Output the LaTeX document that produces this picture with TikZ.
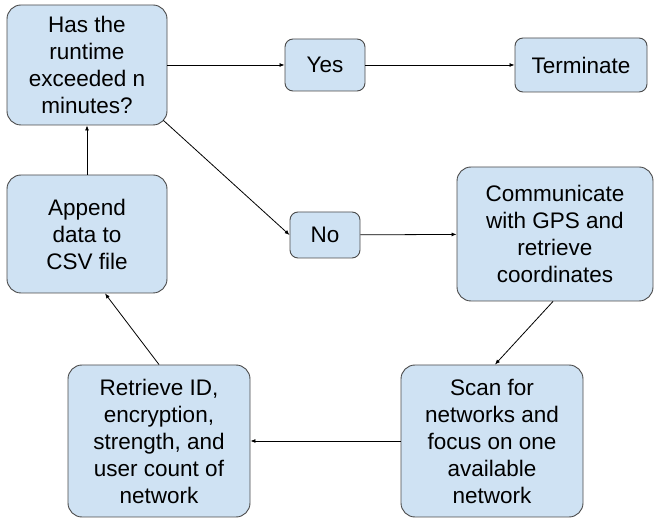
\documentclass[tikz,border=0pt]{standalone}
\usepackage{fontspec}
\setmainfont{Liberation Sans}
\usetikzlibrary{arrows.meta}
\definecolor{boxfill}{HTML}{CFE2F3}
\definecolor{boxline}{HTML}{4A4A4A}
\begin{document}
\begin{tikzpicture}
  [x=1pt,y=-1pt,-{Latex[length=5pt,width=4pt]},
   every node/.style={rectangle,rounded corners=14pt,draw=boxline,fill=boxfill,line width=0.9pt,align=center,inner sep=0pt,font=\fontsize{22.5}{27}\selectfont},
   small/.style={rounded corners=8pt}]
  \useasboundingbox (0,0) rectangle (654,521);
  \node (nq) [minimum width=160pt,minimum height=120pt] at (87,65) {Has the\\runtime\\exceeded n\\minutes?};
  \node (nyes) [small,minimum width=80pt,minimum height=52pt] at (325,65) {Yes};
  \node (nterm) [small,minimum width=132pt,minimum height=54pt] at (581,65) {Terminate};
  \node (nno) [small,minimum width=70pt,minimum height=46pt] at (325,235) {No};
  \node (ngps) [minimum width=196pt,minimum height=134pt] at (555,234) {Communicate\\with GPS and\\retrieve\\coordinates};
  \node (nscan) [minimum width=182pt,minimum height=152pt] at (492,441) {Scan for\\networks and\\focus on one\\available\\network};
  \node (nret) [minimum width=182pt,minimum height=152pt] at (159,441) {Retrieve ID,\\encryption,\\strength, and\\user count of\\network};
  \node (napp) [minimum width=160pt,minimum height=118pt] at (87,234) {Append\\data to\\CSV file};

\draw[line width=0.8pt] (nq.east) -- (nyes);
\draw[line width=0.8pt] (nyes) -- (nterm);
\draw[line width=0.8pt] (nq.south east) ++(-4,-5) -- (nno.west);
\draw[line width=0.8pt] (nno) -- (ngps);
\draw[line width=0.8pt] (ngps.south) ++(-2,0) -- ([xshift=3pt]nscan.north);
\draw[line width=0.8pt] (nscan) -- (nret);
\draw[line width=0.8pt] (nret.north) -- ([xshift=18pt]napp.south);
\draw[line width=0.8pt] (napp) -- (nq);
\end{tikzpicture}
\end{document}
